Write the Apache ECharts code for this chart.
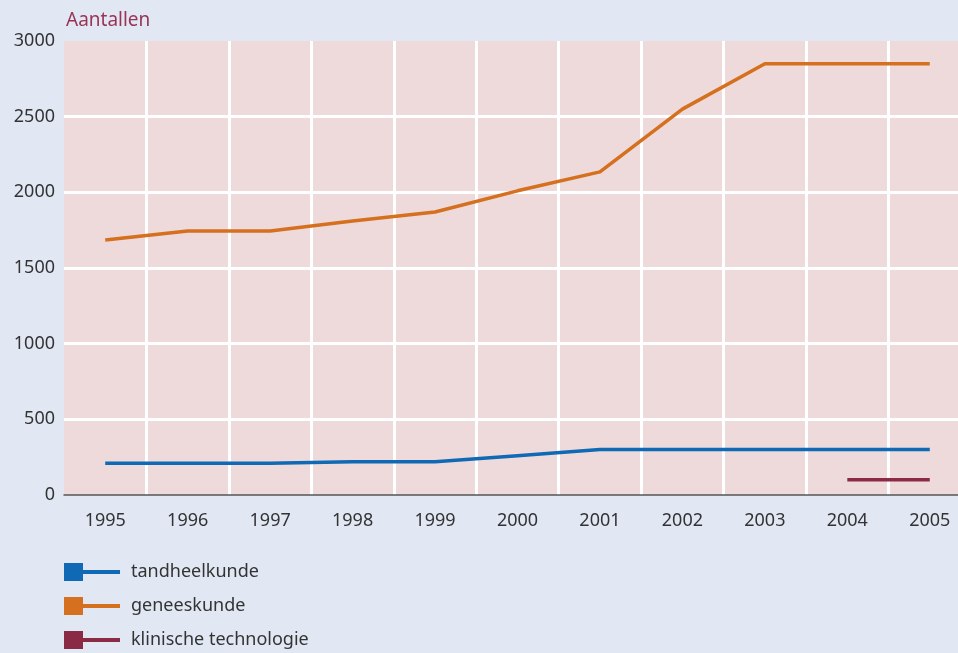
<!DOCTYPE html>
<html>
<head>
<meta charset="utf-8">
<script src="https://cdn.jsdelivr.net/npm/echarts@6/dist/echarts.min.js"></script>
<style>
  html, body { margin: 0; padding: 0; background: #e1e8f4; }
  #chart { width: 958px; height: 653px; }
</style>
</head>
<body>
<div id="chart"></div>
<script>
const years = ['1995', '1996', '1997', '1998', '1999', '2000', '2001', '2002', '2003', '2004', '2005'];
const tandheelkunde = [210, 210, 210, 220, 220, 260, 300, 300, 300, 300, 300];
const geneeskunde = [1685, 1745, 1745, 1810, 1870, 2010, 2135, 2550, 2850, 2850, 2850];
const klinischeTechnologie = [null, null, null, null, null, null, null, null, null, 100, 100];
const seriesNames = ['tandheelkunde', 'geneeskunde', 'klinische technologie'];
const colors = ['#0f69b4', '#d4701e', '#8b2a45'];

const chart = echarts.init(document.getElementById('chart'));

// legend icon: filled square with a line sticking out to the right
const legendIcon = 'path://M0,0H19V18H0Z M19,7H56V11H19Z';

const makeSeries = (name, data, color) => ({
  name: name,
  type: 'line',
  data: data,
  symbol: 'none',
  connectNulls: false,
  lineStyle: { color: color, width: 3.5 },
  itemStyle: { color: color }
});

chart.setOption({
  backgroundColor: '#e1e8f4',
  textStyle: { fontFamily: 'Noto Sans' },
  title: {
    text: 'Aantallen',
    left: 61,
    top: 6,
    textStyle: { color: '#9a3456', fontSize: 19, fontWeight: 'normal', fontFamily: 'Noto Sans' }
  },
  legend: {
    orient: 'vertical',
    left: 64,
    top: 563,
    height: 100,
    itemWidth: 56,
    itemHeight: 18,
    itemGap: 16,
    padding: 0,
    icon: legendIcon,
    data: seriesNames,
    textStyle: { color: '#333', fontSize: 18, padding: [0, 0, 0, 6] }
  },
  grid: {
    left: 64,
    width: 907,
    top: 41,
    bottom: 158,
    outerBoundsMode: 'none',
    containLabel: false,
    show: true,
    backgroundColor: '#eedadb',
    borderWidth: 0
  },
  xAxis: {
    type: 'category',
    data: years,
    boundaryGap: true,
    axisLine: { lineStyle: { color: '#555', width: 1.5 } },
    axisTick: { alignWithLabel: true, length: 8, lineStyle: { color: '#555', width: 1.5 } },
    axisLabel: { color: '#333', fontSize: 18, margin: 17 },
    splitLine: {
      show: true,
      lineStyle: { color: ['rgba(0,0,0,0)', '#fff', '#fff', '#fff', '#fff', '#fff', '#fff', '#fff', '#fff', '#fff', '#fff', '#fff'], width: 3 }
    }
  },
  yAxis: {
    type: 'value',
    min: 0,
    max: 3000,
    interval: 500,
    axisLine: { show: false },
    axisTick: { show: false },
    axisLabel: { color: '#333', fontSize: 18, margin: 9, formatter: v => String(v) },
    splitLine: {
      show: true,
      lineStyle: { color: ['rgba(0,0,0,0)', '#fff', '#fff', '#fff', '#fff', '#fff', 'rgba(0,0,0,0)'], width: 3 }
    }
  },
  series: [
    makeSeries(seriesNames[0], tandheelkunde, colors[0]),
    makeSeries(seriesNames[1], geneeskunde, colors[1]),
    makeSeries(seriesNames[2], klinischeTechnologie, colors[2])
  ]
});
</script>
</body>
</html>
